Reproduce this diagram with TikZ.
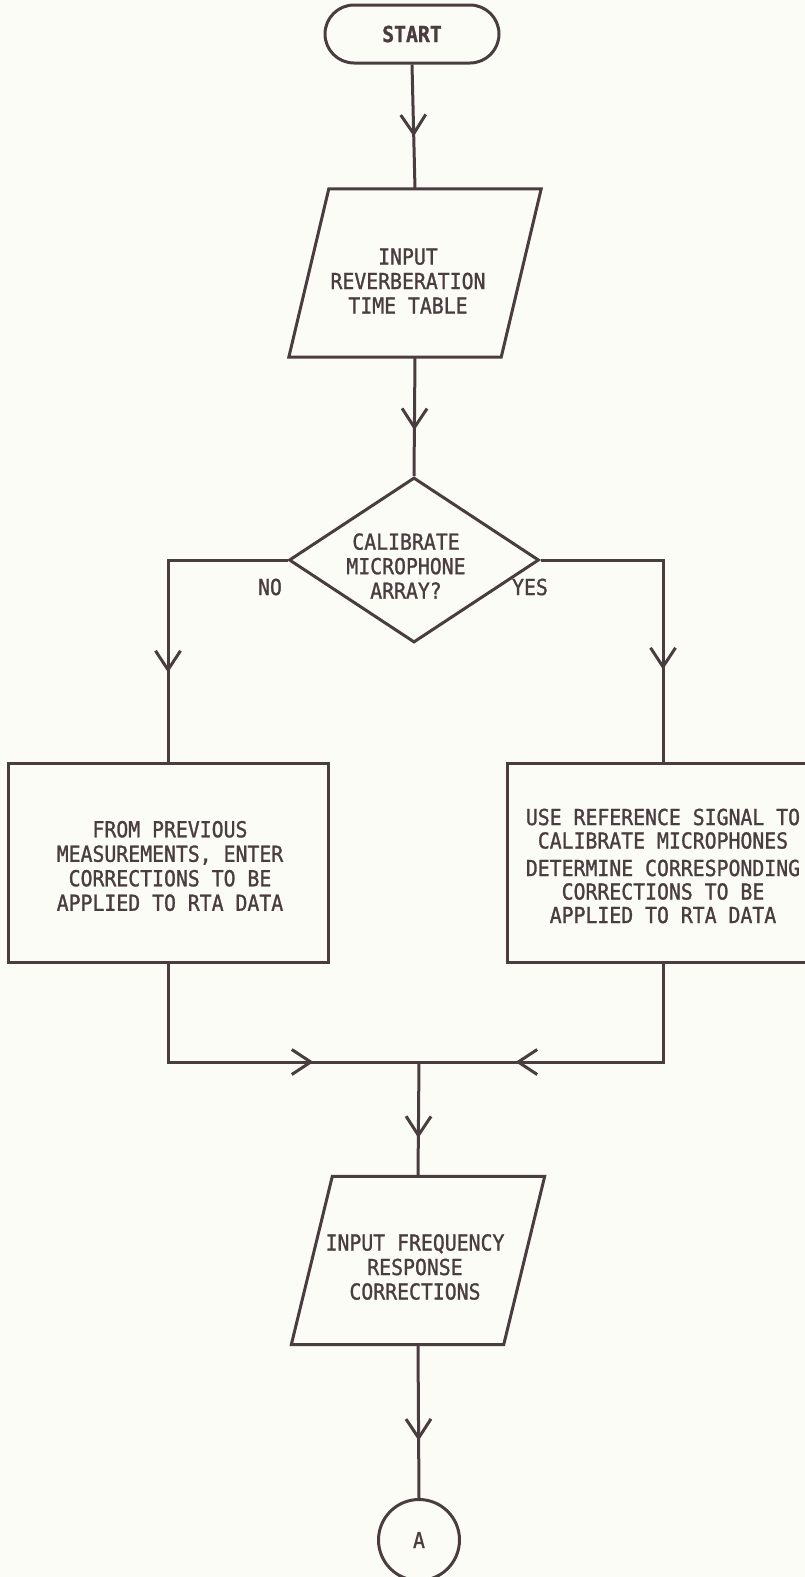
\documentclass[tikz,border=0pt]{standalone}
\usepackage{fontspec}
\newfontfamily\flowfont[FakeStretch=0.9,FakeBold=1.2]{DejaVu Sans Mono}
\usetikzlibrary{shapes.geometric,arrows.meta,decorations.markings}
\definecolor{ink}{RGB}{74,61,63}
\definecolor{paper}{RGB}{252,252,246}
\tikzset{
  flow/.style={line width=3pt, draw=ink},
  txt/.style={font=\flowfont\fontsize{22}{24.5}\selectfont, text=ink, align=center, inner sep=0pt},
  procbox/.style={flow, rectangle, minimum width=320pt, minimum height=199pt},
  iobox/.style={rectangle, minimum width=212pt, minimum height=168pt, inner sep=0pt},
  arrowat/.style={postaction={decorate, decoration={markings,
      mark=at position #1 with {\arrow[ink, line width=3pt]{Straight Barb[length=19pt,width=25pt]}}}}},
}
\begin{document}
\begin{tikzpicture}[x=1pt,y=-1pt]
\useasboundingbox (0,0) rectangle (805,1577);
\fill[paper] (0,0) rectangle (805,1577);
\clip (0,0) rectangle (805,1577);

% START
\node[flow, rectangle, rounded corners=29pt, minimum width=174pt, minimum height=58pt,
      txt, font=\flowfont\bfseries\fontsize{22}{24}\selectfont] (start) at (412,34) {START};

% Input reverberation time table
\node[iobox] (p1) at (415,273) {};
\draw[flow, line join=miter] ([xshift=-20pt]p1.south west) -- ([xshift=20pt]p1.north west)
  -- ([xshift=20pt]p1.north east) -- ([xshift=-20pt]p1.south east) -- cycle;
\node[txt] (p1text) at (408,281) {INPUT\\REVERBERATION\\TIME TABLE};

% Decision
\node[flow, diamond, aspect=1.515, minimum width=250pt, minimum height=165pt, inner sep=0pt] (dia) at (414,560) {};
\node[txt] (diatext) at (406,566) {CALIBRATE\\MICROPHONE\\ARRAY?};
\node[txt] (no) at (270,587) {NO};
\node[txt] (yes) at (530,587) {YES};

% Process boxes
\node[procbox] (left) at (168,862.5) {};
\node[txt] (lefttext) at (170,866) {FROM PREVIOUS\\MEASUREMENTS, ENTER\\CORRECTIONS TO BE\\APPLIED TO RTA DATA};
\node[procbox, minimum width=312pt] (right) at (663,862.5) {};
\node[txt, font=\flowfont\fontsize{22}{23.5}\selectfont] (righttext) at (663,866)
  {USE REFERENCE SIGNAL TO\\CALIBRATE MICROPHONES\\[4pt]DETERMINE CORRESPONDING\\CORRECTIONS TO BE\\APPLIED TO RTA DATA};

% Merge point
\coordinate (merge) at (419,1062);

% Input frequency response corrections
\node[iobox] (p2) at (418,1260.5) {};
\draw[flow, line join=miter] ([xshift=-20.5pt]p2.south west) -- ([xshift=20.5pt]p2.north west)
  -- ([xshift=20.5pt]p2.north east) -- ([xshift=-20.5pt]p2.south east) -- cycle;
\node[txt] (p2text) at (415,1267) {INPUT FREQUENCY\\RESPONSE\\CORRECTIONS};

% Connector A
\node[flow, circle, minimum size=81pt, inner sep=0pt, txt] (conA) at (419,1540) {A};

% Connectors
\draw[flow, arrowat=72pt] (start.south) -- (p1.north);
\draw[flow, arrowat=73pt] (p1.south) -- (dia.north);
\draw[flow, arrowat=232pt] (dia.west) -| (left.north);
\draw[flow, arrowat=232pt] (dia.east) -| (right.north);
\draw[flow, arrowat=244pt] (left.south) |- (merge);
\draw[flow, arrowat=246pt] (right.south) |- (merge);
\draw[flow, arrowat=76pt] (merge) -- (p2.north);
\draw[flow, arrowat=96pt] (p2.south) -- (conA.north);
\end{tikzpicture}
\end{document}
